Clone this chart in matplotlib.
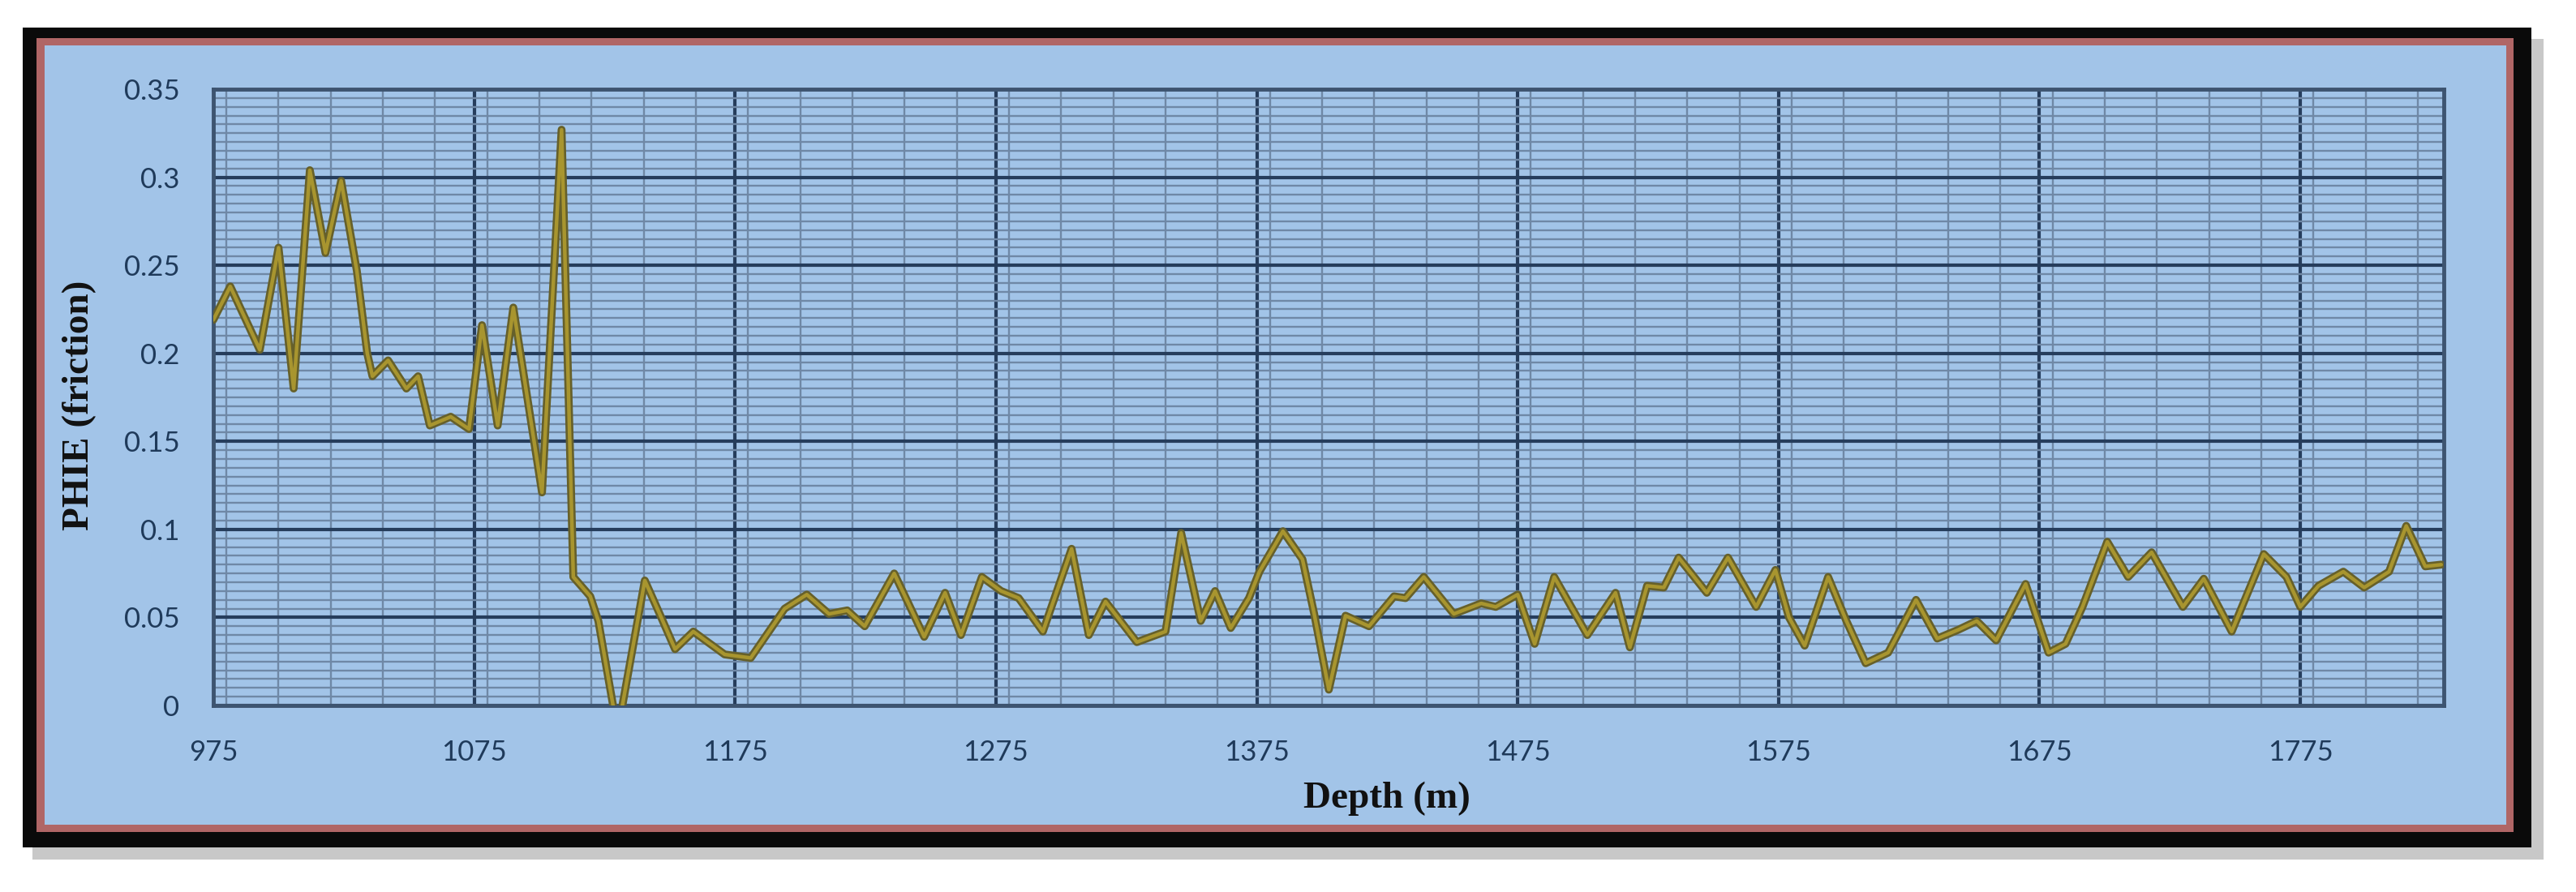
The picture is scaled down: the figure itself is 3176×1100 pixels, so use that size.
import matplotlib
matplotlib.use("Agg")
import matplotlib.pyplot as plt
from matplotlib.patches import Rectangle
from matplotlib.ticker import MultipleLocator

# depth (m) and effective porosity
depth = [975, 981.5, 992.8, 1000, 1005.8, 1012, 1018, 1024, 1030, 1034, 1036,
         1042, 1049, 1053.5, 1058, 1066, 1073, 1078, 1084, 1090, 1101, 1108.5,
         1113, 1119.5, 1122.6, 1130, 1140.4, 1146.7, 1152, 1159, 1171, 1181,
         1194, 1202.5, 1211, 1218, 1224.7, 1236, 1247.5, 1255.5, 1261.6, 1269.6,
         1277, 1283.7, 1293, 1304, 1310.6, 1317, 1329, 1340, 1346, 1353.5, 1359,
         1365, 1372, 1376, 1385, 1392.5, 1397, 1402.6, 1409, 1418, 1427.6, 1432,
         1439, 1450.5, 1461, 1466.6, 1475, 1481.5, 1489, 1501.7, 1512.5, 1518,
         1524.6, 1531, 1536.7, 1547.5, 1555.6, 1566.4, 1573.8, 1579, 1585, 1594,
         1601, 1608.4, 1617, 1627.7, 1635.8, 1643.9, 1651, 1658.4, 1669.7,
         1678.5, 1685, 1691.5, 1701, 1709, 1718, 1730, 1738, 1748.7, 1761,
         1769.7, 1775, 1782, 1791.5, 1799.5, 1809, 1815.6, 1822.9, 1829]
phie = [0.219, 0.238, 0.202, 0.26, 0.18, 0.304, 0.257, 0.298, 0.247, 0.20, 0.187,
        0.196, 0.18, 0.187, 0.159, 0.164, 0.157, 0.216, 0.159, 0.226, 0.121, 0.327,
        0.073, 0.062, 0.048, -0.015, 0.071, 0.05, 0.032, 0.042, 0.029, 0.027,
        0.055, 0.063, 0.052, 0.054, 0.045, 0.075, 0.039, 0.064, 0.040, 0.073,
        0.065, 0.061, 0.042, 0.089, 0.040, 0.059, 0.036, 0.042, 0.098, 0.048, 0.065,
        0.044, 0.061, 0.076, 0.099, 0.083, 0.052, 0.009, 0.051, 0.045, 0.062, 0.061,
        0.073, 0.052, 0.058, 0.056, 0.063, 0.035, 0.073, 0.040, 0.064, 0.033,
        0.068, 0.067, 0.084, 0.064, 0.084, 0.056, 0.077, 0.050, 0.034, 0.073,
        0.048, 0.024, 0.030, 0.060, 0.038, 0.043, 0.048, 0.037, 0.069,
        0.030, 0.035, 0.056, 0.093, 0.073, 0.087, 0.056, 0.072, 0.042, 0.086,
        0.073, 0.056, 0.068, 0.076, 0.067, 0.076, 0.102, 0.079, 0.080]

x_ticks = [975, 1075, 1175, 1275, 1375, 1475, 1575, 1675, 1775]
y_ticks = [0, 0.05, 0.1, 0.15, 0.2, 0.25, 0.3, 0.35]
y_labels = ['0', '0.05', '0.1', '0.15', '0.2', '0.25', '0.3', '0.35']

W, H = 3176, 1100
BLUE = '#A2C4E8'

fig = plt.figure(figsize=(W / 100, H / 100), dpi=100, facecolor='white')


def px_rect(x0, y0, x1, y1, **kw):
    # rectangle given in image pixels (y from top)
    r = Rectangle((x0 / W, 1 - y1 / H), (x1 - x0) / W, (y1 - y0) / H,
                  transform=fig.transFigure, **kw)
    fig.add_artist(r)


# frame: shadow, black border, red rim, blue panel
px_rect(40, 48, 3136, 1060, facecolor='#c8c8c8', edgecolor='none', zorder=-5)
px_rect(28, 34, 3121, 1045, facecolor='#0a0a0a', edgecolor='none', zorder=-4)
px_rect(45, 47, 3099, 1026, facecolor='#b06666', edgecolor='none', zorder=-3)
px_rect(55, 56, 3090, 1017, facecolor=BLUE, edgecolor='none', zorder=-2)

ax = fig.add_axes([263 / W, 1 - 870 / H, (3013 - 263) / W, (870 - 110) / H])
ax.set_facecolor(BLUE)

ax.plot(depth, phie, color='#66602a', lw=7, solid_joinstyle='round',
        solid_capstyle='round', zorder=3)
ax.plot(depth, phie, color='#a8952f', lw=3.2, solid_joinstyle='round',
        solid_capstyle='round', zorder=4)

ax.set_xlim(975, 1830)
ax.set_ylim(0, 0.35)

ax.set_xticks(x_ticks)
ax.set_xticklabels([str(t) for t in x_ticks])
ax.set_yticks(y_ticks)
ax.set_yticklabels(y_labels)
ax.xaxis.set_minor_locator(MultipleLocator(20))
ax.yaxis.set_minor_locator(MultipleLocator(0.005))

ax.grid(which='minor', color='#6f88a6', lw=1.7)
ax.grid(which='major', color='#263d5c', lw=3.0)
ax.set_axisbelow(True)

ax.tick_params(which='both', length=0)
ax.tick_params(axis='x', pad=30)
ax.tick_params(axis='y', pad=30)
for lab in ax.get_xticklabels() + ax.get_yticklabels():
    lab.set_fontfamily(['Lato', 'DejaVu Sans'])
    lab.set_fontsize(25)
    lab.set_color('#1f3a5a')

for s in ax.spines.values():
    s.set_color('#3d5470')
    s.set_linewidth(3.5)

fig.text(1710 / W, 1 - 985 / H, 'Depth (m)', ha='center', va='center',
         family=['Liberation Serif', 'DejaVu Serif'], fontweight='bold',
         fontsize=34, color='#111111')
fig.text(98 / W, 1 - 500 / H, 'PHIE (friction)', ha='center', va='center',
         rotation=90, family=['Liberation Serif', 'DejaVu Serif'],
         fontweight='bold', fontsize=34, color='#111111')

fig.savefig('out.png', dpi=100, facecolor='white')
